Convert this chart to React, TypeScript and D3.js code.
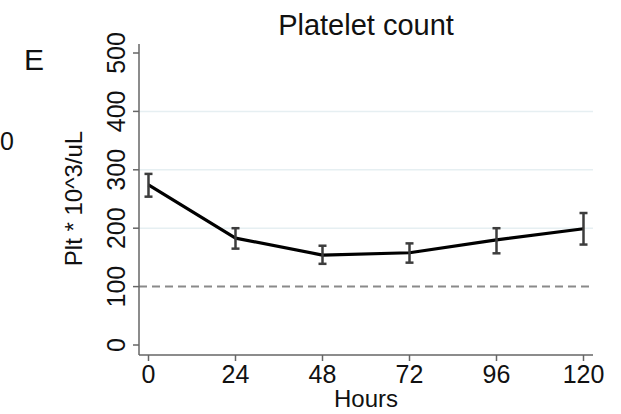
import React, { useRef, useEffect } from 'react';
import * as d3 from 'd3';

const hours = [0, 24, 48, 72, 96, 120];
const meanPlt = [274, 183, 154, 158, 180, 199];
const lowerPlt = [254, 165, 139, 141, 157, 172];
const upperPlt = [293, 200, 170, 174, 200, 226];

const xTicks = [0, 24, 48, 72, 96, 120];
const yTicks = [0, 100, 200, 300, 400, 500];
const gridValues = [200, 300, 400];
const refLine = 100;

const FONT = "'Liberation Sans', Arial, Helvetica, sans-serif";

const App = () => {
    const svgRef = useRef<SVGSVGElement | null>(null);

    useEffect(() => {
        const svgWidth = 621;
        const svgHeight = 414;

        const svg = d3.select(svgRef.current)
            .attr("width", svgWidth)
            .attr("height", svgHeight)
            .style("font-family", FONT);

        svg.selectAll("*").remove();

        svg.append("rect")
            .attr("width", svgWidth)
            .attr("height", svgHeight)
            .attr("fill", "#fff");

        const xScale = d3.scaleLinear().domain([0, 120]).range([148.5, 583.5]);
        const yScale = d3.scaleLinear().domain([0, 500]).range([345, 53]);

        const plotLeft = 139;
        const plotRight = 593;
        const plotBottom = 355;
        const plotTop = 44;

        // fragment of neighbouring panel
        svg.append("text")
            .attr("x", 0)
            .attr("y", 150)
            .attr("font-size", 25)
            .attr("fill", "#111")
            .text("0");

        // panel letter
        svg.append("text")
            .attr("x", 24)
            .attr("y", 70)
            .attr("font-size", 30)
            .attr("fill", "#111")
            .text("E");

        // title
        svg.append("text")
            .attr("x", (plotLeft + plotRight) / 2)
            .attr("y", 35)
            .attr("text-anchor", "middle")
            .attr("font-size", 29)
            .attr("fill", "#111")
            .text("Platelet count");

        // gridlines
        svg.append("g")
            .selectAll("line")
            .data(gridValues)
            .enter()
            .append("line")
            .attr("x1", plotLeft)
            .attr("x2", plotRight)
            .attr("y1", (d) => yScale(d))
            .attr("y2", (d) => yScale(d))
            .attr("stroke", "#e6eff2")
            .attr("stroke-width", 1.5);

        // reference line at 100
        svg.append("line")
            .attr("x1", plotLeft)
            .attr("x2", plotRight)
            .attr("y1", yScale(refLine))
            .attr("y2", yScale(refLine))
            .attr("stroke", "#8a8a8a")
            .attr("stroke-width", 2)
            .attr("stroke-dasharray", "8,5");

        // axes lines
        svg.append("line")
            .attr("x1", plotLeft).attr("x2", plotLeft)
            .attr("y1", plotTop).attr("y2", plotBottom)
            .attr("stroke", "#666").attr("stroke-width", 1.5);
        svg.append("line")
            .attr("x1", plotLeft).attr("x2", plotRight)
            .attr("y1", plotBottom).attr("y2", plotBottom)
            .attr("stroke", "#666").attr("stroke-width", 1.5);

        // y ticks
        const yt = svg.append("g");
        yt.selectAll("line")
            .data(yTicks)
            .enter()
            .append("line")
            .attr("x1", plotLeft - 6)
            .attr("x2", plotLeft)
            .attr("y1", (d) => yScale(d))
            .attr("y2", (d) => yScale(d))
            .attr("stroke", "#666")
            .attr("stroke-width", 1.5);
        yt.selectAll("text")
            .data(yTicks)
            .enter()
            .append("text")
            .attr("transform", (d) => `translate(125,${yScale(d)}) rotate(-90)`)
            .attr("text-anchor", "middle")
            .attr("font-size", 25)
            .attr("fill", "#111")
            .text((d) => d);

        // x ticks
        const xt = svg.append("g");
        xt.selectAll("line")
            .data(xTicks)
            .enter()
            .append("line")
            .attr("x1", (d) => xScale(d))
            .attr("x2", (d) => xScale(d))
            .attr("y1", plotBottom)
            .attr("y2", plotBottom + 6)
            .attr("stroke", "#666")
            .attr("stroke-width", 1.5);
        xt.selectAll("text")
            .data(xTicks)
            .enter()
            .append("text")
            .attr("x", (d) => xScale(d))
            .attr("y", 383)
            .attr("text-anchor", "middle")
            .attr("font-size", 25)
            .attr("fill", "#111")
            .text((d) => d);

        // axis titles
        svg.append("text")
            .attr("x", (plotLeft + plotRight) / 2)
            .attr("y", 407)
            .attr("text-anchor", "middle")
            .attr("font-size", 24)
            .attr("fill", "#111")
            .text("Hours");

        svg.append("text")
            .attr("transform", `translate(82,${(130 + 267) / 2}) rotate(-90)`)
            .attr("text-anchor", "middle")
            .attr("font-size", 24)
            .attr("fill", "#111")
            .text("Plt * 10^3/uL");

        const points = hours.map((h, i) => ({
            hour: h,
            mean: meanPlt[i],
            lo: lowerPlt[i],
            hi: upperPlt[i],
        }));

        // mean line
        const line = d3.line<any>()
            .x((d) => xScale(d.hour))
            .y((d) => yScale(d.mean));

        svg.append("path")
            .datum(points)
            .attr("fill", "none")
            .attr("stroke", "#000")
            .attr("stroke-width", 3.2)
            .attr("stroke-linejoin", "round")
            .attr("d", line);

        // error bars
        const eb = svg.append("g")
            .attr("stroke", "#3d3d3d")
            .attr("stroke-width", 2.5);
        const cap = 4;
        points.forEach((d) => {
            const x = xScale(d.hour);
            eb.append("line")
                .attr("x1", x).attr("x2", x)
                .attr("y1", yScale(d.lo)).attr("y2", yScale(d.hi));
            eb.append("line")
                .attr("x1", x - cap).attr("x2", x + cap)
                .attr("y1", yScale(d.lo)).attr("y2", yScale(d.lo));
            eb.append("line")
                .attr("x1", x - cap).attr("x2", x + cap)
                .attr("y1", yScale(d.hi)).attr("y2", yScale(d.hi));
        });
    }, []);

    return (
        <div>
            <svg ref={svgRef} style={{ position: "absolute", left: 0, top: 0 }} />
        </div>
    );
};

export default App;
